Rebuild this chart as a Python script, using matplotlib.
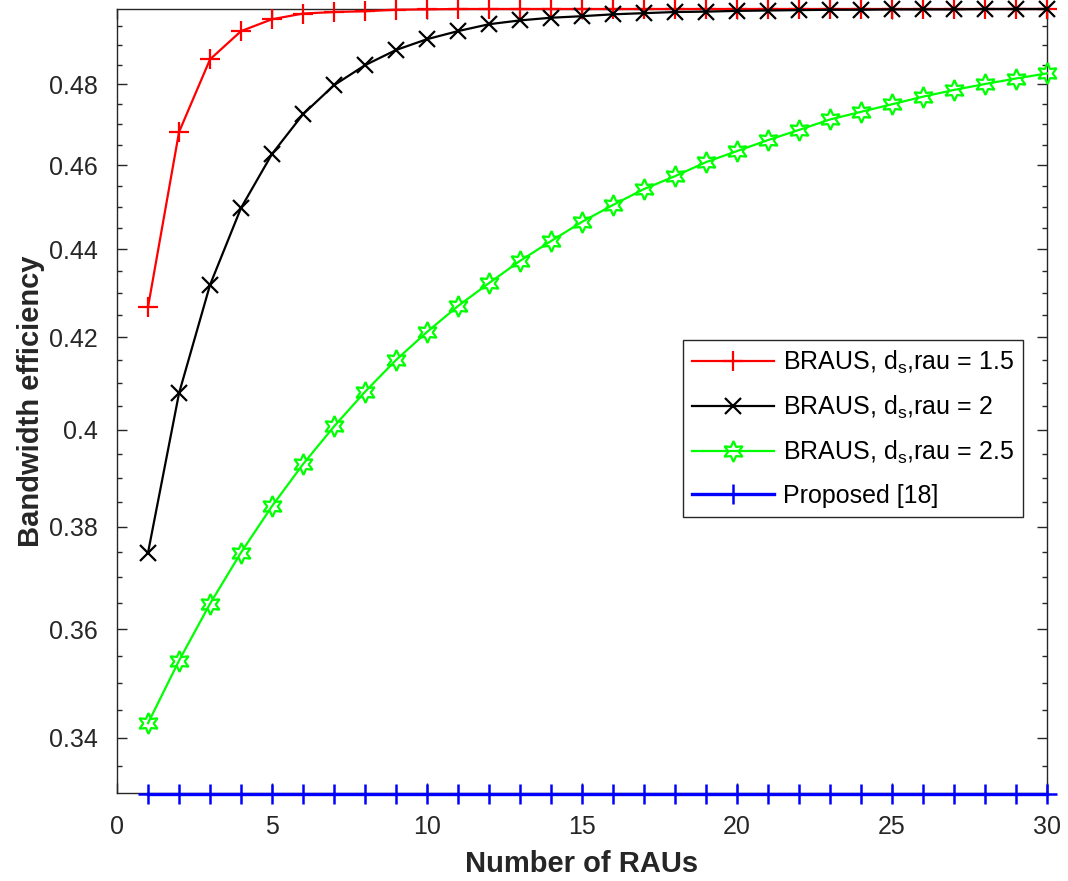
import matplotlib
matplotlib.use("Agg")
import matplotlib.pyplot as plt
from matplotlib.ticker import FixedLocator, FixedFormatter, NullFormatter
import numpy as np

plt.rcParams['font.family'] = ['Liberation Sans', 'DejaVu Sans']
plt.rcParams['mathtext.fontset'] = 'custom'
plt.rcParams['mathtext.rm'] = 'Liberation Sans'

n_raus = list(range(1, 31))

braus_15 = [0.4268, 0.4681, 0.4864, 0.4937, 0.4968, 0.4983, 0.4987, 0.4989, 0.4993, 0.4994,
            0.4995, 0.4995, 0.4995, 0.4995, 0.4995, 0.4995, 0.4995, 0.4995, 0.4995, 0.4995,
            0.4995, 0.4995, 0.4995, 0.4995, 0.4995, 0.4995, 0.4995, 0.4995, 0.4995, 0.4995]
braus_2 = [0.3749, 0.4078, 0.4318, 0.4497, 0.4627, 0.4725, 0.4798, 0.4849, 0.4888, 0.4916,
           0.4937, 0.4955, 0.4965, 0.4972, 0.4976, 0.4981, 0.4984, 0.4987, 0.4988, 0.4990,
           0.4991, 0.4992, 0.4993, 0.4993, 0.4994, 0.4994, 0.4994, 0.4995, 0.4995, 0.4995]
braus_25 = [0.3426, 0.3541, 0.3649, 0.3749, 0.3842, 0.3928, 0.4007, 0.4081, 0.4150, 0.4212,
            0.4270, 0.4322, 0.4373, 0.4419, 0.4464, 0.4504, 0.4542, 0.4573, 0.4607, 0.4634,
            0.4661, 0.4686, 0.4712, 0.4731, 0.4750, 0.4769, 0.4786, 0.4801, 0.4815, 0.4828]
proposed = [0.33] * 30

y_ticks = [0.34, 0.36, 0.38, 0.40, 0.42, 0.44, 0.46, 0.48]
y_tick_labels = ['0.34', '0.36', '0.38', '0.4', '0.42', '0.44', '0.46', '0.48']
x_ticks = [0, 5, 10, 15, 20, 25, 30]

labels = ['BRAUS, d$_\\mathregular{s}$,rau = 1.5',
          'BRAUS, d$_\\mathregular{s}$,rau = 2',
          'BRAUS, d$_\\mathregular{s}$,rau = 2.5',
          'Proposed [18]']

fig = plt.figure(figsize=(10.68, 8.81), dpi=100)
ax = fig.add_axes([0.1096, 0.0999, 0.9803 - 0.1096, 0.9898 - 0.0999])
ax.set_yscale('log')

ax.plot(n_raus, braus_15, color='#ff0000', lw=1.6, marker='+', ms=15, mew=1.6,
        label=labels[0], clip_on=False, zorder=3)
ax.plot(n_raus, braus_2, color='#000000', lw=1.6, marker='x', ms=11, mew=1.6,
        label=labels[1], clip_on=False, zorder=4)
ax.plot(n_raus, braus_25, color='#00ff00', lw=1.6, marker=(6, 1, 0), ms=15, mew=1.6,
        mfc='none', label=labels[2], clip_on=False, zorder=3)
ax.plot(n_raus, proposed, color='#0000ff', lw=2.4, marker='+', ms=15, mew=1.8,
        label=labels[3], clip_on=False, zorder=3)

ax.set_xlim(0, 30)
ax.set_ylim(0.3302, 0.4995)

ax.xaxis.set_major_locator(FixedLocator(x_ticks))
ax.yaxis.set_major_locator(FixedLocator(y_ticks))
ax.yaxis.set_major_formatter(FixedFormatter(y_tick_labels))
minor = [round(0.330 + 0.005 * i, 3) for i in range(0, 35)]
minor = [m for m in minor if m not in y_ticks and 0.3302 <= m <= 0.4995]
ax.yaxis.set_minor_locator(FixedLocator(minor))
ax.yaxis.set_minor_formatter(NullFormatter())
ax.xaxis.set_minor_locator(FixedLocator([]))

axcol = '#262626'
for sp in ax.spines.values():
    sp.set_color(axcol)
    sp.set_linewidth(1.0)
ax.tick_params(axis='both', which='major', direction='in', length=7, width=1.0,
               colors=axcol, labelsize=18, top=True, right=True)
ax.tick_params(axis='y', which='major', pad=14)
ax.tick_params(axis='x', which='major', pad=16)
ax.tick_params(axis='y', which='minor', direction='in', length=3.5, width=1.0,
               colors=axcol, right=True, left=True)

ax.set_xlabel('Number of RAUs', fontsize=21, fontweight='bold', color=axcol, labelpad=8)
ax.set_ylabel('Bandwidth efficiency', fontsize=21, fontweight='bold', color=axcol, labelpad=3)

leg = ax.legend(loc='upper left', bbox_to_anchor=(0.6086, 0.578), fontsize=18,
                frameon=True, fancybox=False, framealpha=1, edgecolor='#262626',
                handlelength=3.3, handletextpad=0.35, labelspacing=0.72, numpoints=1,
                borderpad=0.35, borderaxespad=0)
leg.get_frame().set_linewidth(1.0)

fig.savefig('out.png', dpi=100)
